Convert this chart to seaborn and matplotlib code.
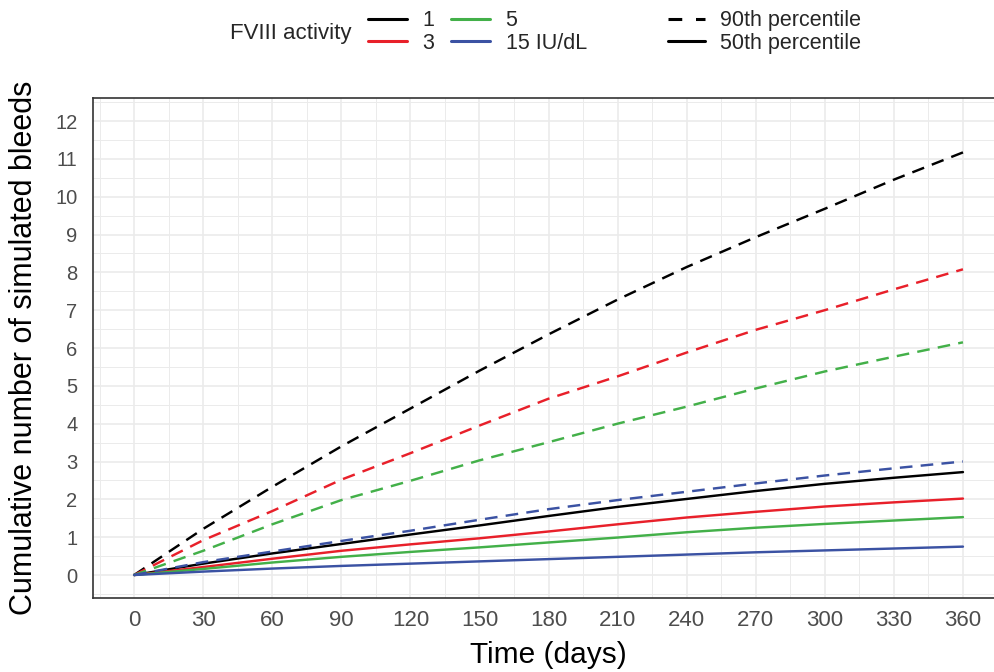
import numpy as np
import pandas as pd
import matplotlib
matplotlib.use("Agg")
import matplotlib.pyplot as plt
from matplotlib.lines import Line2D
import seaborn as sns

# ---------------- data ----------------
days = [0, 30, 60, 90, 120, 150, 180, 210, 240, 270, 300, 330, 360]
activities = ["1", "3", "5", "15 IU/dL"]
percentiles = ["90th percentile", "50th percentile"]

p90_fviii_1 = [0, 1.22, 2.33, 3.40, 4.40, 5.40, 6.36, 7.28, 8.14, 8.93, 9.68, 10.45, 11.17]
p90_fviii_3 = [0, 0.92, 1.69, 2.52, 3.22, 3.95, 4.66, 5.25, 5.88, 6.48, 7.00, 7.55, 8.08]
p90_fviii_5 = [0, 0.64, 1.34, 1.98, 2.49, 3.03, 3.51, 4.00, 4.45, 4.93, 5.38, 5.77, 6.15]
p90_fviii_15 = [0, 0.34, 0.62, 0.90, 1.17, 1.46, 1.74, 1.98, 2.20, 2.42, 2.63, 2.82, 3.00]

p50_fviii_1 = [0, 0.30, 0.57, 0.82, 1.07, 1.31, 1.56, 1.80, 2.01, 2.22, 2.41, 2.57, 2.72]
p50_fviii_3 = [0, 0.21, 0.43, 0.64, 0.81, 0.97, 1.15, 1.34, 1.52, 1.67, 1.81, 1.92, 2.02]
p50_fviii_5 = [0, 0.16, 0.33, 0.48, 0.61, 0.73, 0.86, 0.99, 1.13, 1.25, 1.35, 1.44, 1.53]
p50_fviii_15 = [0, 0.09, 0.17, 0.24, 0.30, 0.36, 0.42, 0.48, 0.54, 0.60, 0.65, 0.70, 0.75]

x_ticks = list(range(0, 361, 30))
y_ticks = list(range(0, 13))

series = {
    ("1", "90th percentile"): p90_fviii_1,
    ("3", "90th percentile"): p90_fviii_3,
    ("5", "90th percentile"): p90_fviii_5,
    ("15 IU/dL", "90th percentile"): p90_fviii_15,
    ("1", "50th percentile"): p50_fviii_1,
    ("3", "50th percentile"): p50_fviii_3,
    ("5", "50th percentile"): p50_fviii_5,
    ("15 IU/dL", "50th percentile"): p50_fviii_15,
}
rows = []
for (act, pct), vals in series.items():
    for d, v in zip(days, vals):
        rows.append({"day": d, "bleeds": v, "activity": act, "pct": pct})
df = pd.DataFrame(rows)

# ---------------- style ----------------
sns.set_style("white")
plt.rcParams["font.family"] = ["Liberation Sans", "DejaVu Sans"]

colors = {"1": "#000000", "3": "#E8202A", "5": "#43B049", "15 IU/dL": "#3B52A3"}
dash_90 = (5.2, 3.4)
lw = 1.75

W, H = 994, 672
fig = plt.figure(figsize=(W / 100, H / 100), dpi=100)
left_px, right_px, top_px, bot_px = 92.7, 1004.4, 98.3, 597.7
ax = fig.add_axes([left_px / W, 1 - bot_px / H, (right_px - left_px) / W, (bot_px - top_px) / H])

sns.lineplot(
    data=df, x="day", y="bleeds", hue="activity", style="pct",
    hue_order=activities, style_order=percentiles,
    palette=colors, dashes={"90th percentile": dash_90, "50th percentile": ""},
    linewidth=lw, legend=False, ax=ax, estimator=None, sort=True,
)

ax.set_xlim(-18, 378)
ax.set_ylim(-0.6, 12.6)
ax.set_xticks(x_ticks)
ax.set_yticks(y_ticks)
ax.set_xticks(np.arange(-15, 376, 30), minor=True)
ax.set_yticks(np.arange(-0.5, 12.6, 1.0), minor=True)
ax.set_axisbelow(True)
ax.grid(which="major", color="#EBEBEB", linewidth=1.2)
ax.grid(which="minor", color="#EBEBEB", linewidth=0.7)

for s in ax.spines.values():
    s.set_color("#333333")
    s.set_linewidth(1.2)
    s.set_visible(True)

ax.tick_params(which="major", direction="out", length=5.5, width=1.1, color="#333333",
               labelcolor="#4D4D4D")
ax.tick_params(axis="x", which="major", labelsize=16, pad=3)
ax.tick_params(axis="y", which="major", labelsize=14.5, pad=5.5)
ax.tick_params(which="minor", length=0)

ax.set_xlabel("Time (days)", fontsize=21.5, color="black")
ax.set_ylabel("Cumulative number of simulated bleeds", fontsize=22, color="black")
ax.xaxis.set_label_coords(0.5, (bot_px - 641) / (bot_px - top_px))
ax.yaxis.set_label_coords((39 - left_px) / (right_px - left_px), 0.5)

# ---------------- legends ----------------
h1 = [Line2D([], [], color=colors[a], lw=2.2) for a in activities]
leg1 = fig.legend(h1, activities, ncol=2, loc="center left",
                  bbox_to_anchor=(368 / W, 1 - 32 / H), frameon=False,
                  fontsize=15.5, handlelength=1.8, handletextpad=0.72,
                  columnspacing=0.8, labelspacing=0.05, borderpad=0, borderaxespad=0)
fig.text(230 / W, 1 - 33 / H, "FVIII activity", fontsize=16, va="center", ha="left")

h2 = [Line2D([], [], color="black", lw=2.2, dashes=(4.5, 4.5)),
      Line2D([], [], color="black", lw=2.2)]
leg2 = fig.legend(h2, percentiles, loc="center left",
                  bbox_to_anchor=(668 / W, 1 - 32 / H), frameon=False,
                  fontsize=15.5, handlelength=1.7, handletextpad=0.72,
                  labelspacing=0.05, borderpad=0, borderaxespad=0)

fig.savefig("out.png", dpi=100)
